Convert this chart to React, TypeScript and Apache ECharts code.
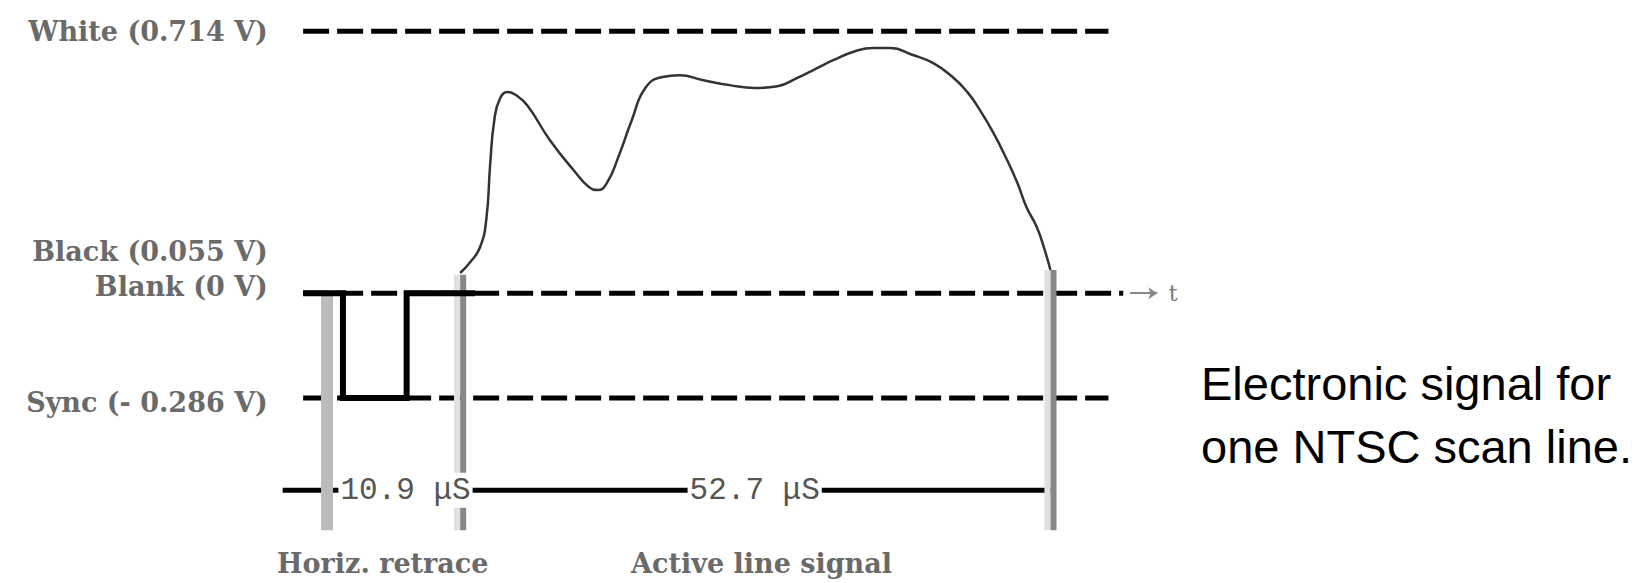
import React, { useEffect, useRef } from "react";
import * as echarts from "echarts";

// Voltage levels (V) and their names
const levelNames = ["White (0.714 V)", "Black (0.055 V)", "Blank (0 V)", "Sync (- 0.286 V)"];
const levelVolts = [0.714, 0.055, 0, -0.286];

// Dashed reference lines: White, Blank, Sync
const dashedVolts = [0.714, 0, -0.286];
const dashedStartT = [-2.1, -2.1, -2.1];
const dashedEndT = [68.7, 70.0, 68.7];

// Horizontal sync pulse (time in µs, voltage in V)
const pulseT = [-2.1, 1.4, 1.4, 7.0, 7.0, 13.0];
const pulseV = [0, 0, -0.286, -0.286, 0, 0];

// Time markers: retrace start, active start, line end
const markerT = [0, 11.7, 63.6];
const markerTopV = [0, 0.05, 0.063];
const markerBottomV = -0.646;

// Active line signal (µs, V)
const signalT = [
  11.7, 12.6, 13.45, 14.0, 14.35, 14.7, 15.2, 15.9, 16.6, 17.6, 19.6, 21.9, 23.0, 23.8, 24.6,
  25.6, 26.8, 28.0, 29.5, 31.0, 33.0, 35.4, 37.6, 39.6, 41.3, 43.0, 44.5, 46.3, 48.0, 49.5,
  51.5, 53.3, 55.0, 56.3, 57.4, 58.6, 59.8, 60.7, 61.5, 62.4, 63.1, 63.6,
];
const signalV = [
  0.055, 0.085, 0.125, 0.2, 0.354, 0.47, 0.53, 0.548, 0.54, 0.512, 0.417, 0.327, 0.29, 0.281,
  0.3, 0.37, 0.472, 0.56, 0.589, 0.594, 0.581, 0.567, 0.559, 0.564, 0.586, 0.612, 0.635, 0.658,
  0.668, 0.668, 0.649, 0.627, 0.589, 0.548, 0.499, 0.436, 0.362, 0.3, 0.234, 0.18, 0.117, 0.063,
];

// Duration bar
const durationV = -0.537;
const durationStartT = -3.9;
const durationEndT = 63.6;
const durationLabels = ["10.9 \u03bcS", "52.7 \u03bcS"];
const durationLabelT = [6.9, 37.6];

// Section labels
const sectionLabels = ["Horiz. retrace", "Active line signal"];
const sectionLabelT = [4.9, 38.2];
const sectionLabelV = -0.737;

// Time axis arrow
const timeArrowT = [70.6, 73.0];
const timeLabel = "t";
const timeLabelT = 74.0;

// Caption
const captionLines = ["Electronic signal for", "one NTSC scan line."];

// Layout / style (not data)
const X_MIN = -28.75;
const X_MAX = 116.4;
const Y_MIN = -0.79;
const Y_MAX = 0.799;
const levelLabelT = -5.2;
const levelLabelDy = [0, -21, -7, 4];
const serifFont = 'bold 27px "DejaVu Serif"';
const monoFont = '31px "Liberation Mono"';

export default function App() {
  const ref = useRef<HTMLDivElement>(null);

  useEffect(() => {
    if (!ref.current) return;
    const chart = echarts.init(ref.current, null, { renderer: "svg" });

    const series: any[] = [];

    dashedVolts.forEach((v, i) => {
      series.push({
        type: "line",
        silent: true,
        symbol: "none",
        data: [
          [dashedStartT[i], v],
          [dashedEndT[i], v],
        ],
        lineStyle: { color: "#000", width: 5, type: [26, 8] },
      });
    });

    series.push({
      type: "line",
      silent: true,
      symbol: "none",
      data: [
        [durationStartT, durationV],
        [durationEndT, durationV],
      ],
      lineStyle: { color: "#000", width: 5 },
    });

    markerT.forEach((t, i) => {
      if (i === 0) {
        series.push({
          type: "line",
          silent: true,
          symbol: "none",
          data: [
            [t, markerTopV[i]],
            [t, markerBottomV],
          ],
          lineStyle: { color: "#bbbbbb", width: 12 },
        });
      } else {
        series.push({
          type: "line",
          silent: true,
          symbol: "none",
          data: [
            [t - 0.27, markerTopV[i]],
            [t - 0.27, markerBottomV],
          ],
          lineStyle: { color: "#e0e0e0", width: 6 },
        });
        series.push({
          type: "line",
          silent: true,
          symbol: "none",
          data: [
            [t + 0.27, markerTopV[i]],
            [t + 0.27, markerBottomV],
          ],
          lineStyle: { color: "#888888", width: 6 },
        });
      }
    });

    series.push({
      type: "line",
      silent: true,
      symbol: "none",
      data: pulseT.map((t, i) => [t, pulseV[i]]),
      lineStyle: { color: "#000", width: 6, join: "miter", cap: "butt" },
    });

    series.push({
      type: "line",
      silent: true,
      symbol: "none",
      smooth: 0.5,
      data: signalT.map((t, i) => [t, signalV[i]]),
      lineStyle: { color: "#333", width: 2.5 },
    });

    series.push({
      type: "lines",
      coordinateSystem: "cartesian2d",
      silent: true,
      symbol: ["none", "arrow"],
      symbolSize: 9,
      data: [
        {
          coords: [
            [timeArrowT[0], 0],
            [timeArrowT[1], 0],
          ],
        },
      ],
      lineStyle: { color: "#888", width: 2, opacity: 1 },
    });

    chart.setOption({
      animation: false,
      grid: { left: 0, top: 0, width: 1651, height: 583, containLabel: false },
      xAxis: { type: "value", min: X_MIN, max: X_MAX, show: false },
      yAxis: { type: "value", min: Y_MIN, max: Y_MAX, show: false },
      title: {
        text: captionLines.join("\n"),
        left: 1201,
        top: 352,
        padding: 0,
        textStyle: {
          fontFamily: '"Liberation Sans", Arial, sans-serif',
          fontSize: 47,
          fontWeight: "normal",
          color: "#000",
          lineHeight: 63,
        },
      },
      series,
    });

    const px = (t: number, v: number) => chart.convertToPixel({ gridIndex: 0 }, [t, v]) as number[];

    const graphic: any[] = [];
    levelNames.forEach((name, i) => {
      const p = px(levelLabelT, levelVolts[i]);
      graphic.push({
        type: "text",
        silent: true,
        x: p[0],
        y: p[1] + levelLabelDy[i],
        style: {
          text: name,
          font: serifFont,
          fill: "#6a6a6a",
          align: "right",
          verticalAlign: "middle",
        },
      });
    });
    durationLabels.forEach((label, i) => {
      const p = px(durationLabelT[i], durationV);
      graphic.push({
        type: "text",
        silent: true,
        z: 100,
        x: p[0],
        y: p[1],
        style: {
          text: label,
          font: monoFont,
          fill: "#555",
          align: "center",
          verticalAlign: "middle",
          backgroundColor: "#fff",
          padding: [2, 2],
        },
      });
    });
    sectionLabels.forEach((label, i) => {
      const p = px(sectionLabelT[i], sectionLabelV);
      graphic.push({
        type: "text",
        silent: true,
        x: p[0],
        y: p[1],
        style: {
          text: label,
          font: serifFont,
          fill: "#6a6a6a",
          align: "center",
          verticalAlign: "middle",
        },
      });
    });
    const tp = px(timeLabelT, 0);
    graphic.push({
      type: "text",
      silent: true,
      x: tp[0],
      y: tp[1],
      style: {
        text: timeLabel,
        font: '22px "DejaVu Serif"',
        fill: "#777",
        align: "left",
        verticalAlign: "middle",
      },
    });

    chart.setOption({ graphic });

    return () => chart.dispose();
  }, []);

  return (
    <div
      ref={ref}
      style={{ position: "fixed", left: 0, top: 0, width: 1651, height: 583, background: "#fff" }}
    />
  );
}
